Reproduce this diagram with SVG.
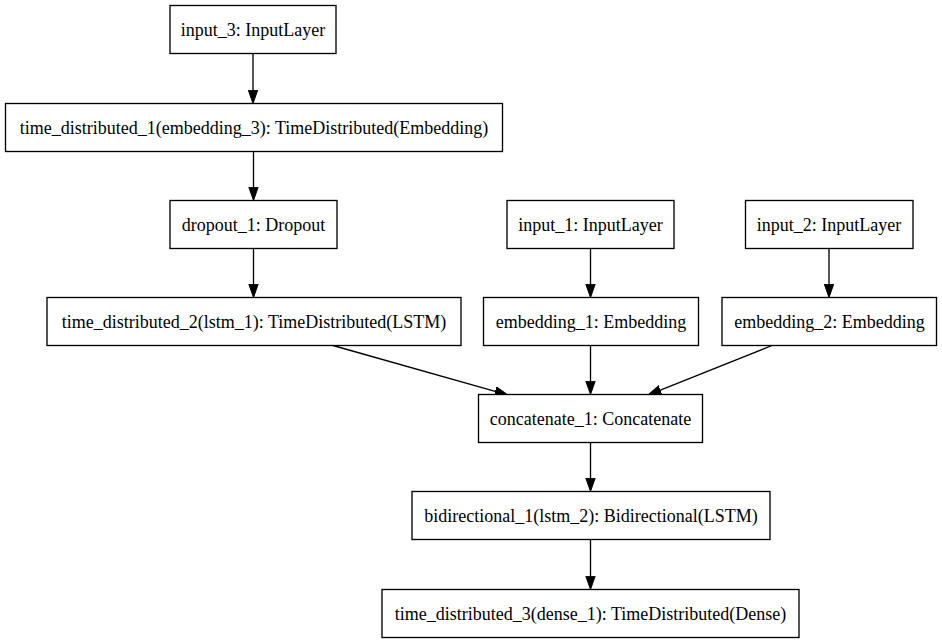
<svg xmlns="http://www.w3.org/2000/svg" width="942" height="644" viewBox="0 0 942 644">
<style>
.n rect{fill:#fff;stroke:#000;stroke-width:1.33}
.n text{font-family:"Liberation Serif","Times New Roman",serif;font-size:18px;fill:#000;text-anchor:middle}
.e path{fill:none;stroke:#000;stroke-width:1.33}
</style>
<defs>
<marker id="ah" markerUnits="userSpaceOnUse" markerWidth="15" markerHeight="11" viewBox="0 -5.5 15 11" refX="0" refY="0" orient="auto">
<path d="M0,-4.67 L13.3,0 L0,4.67 Z" fill="#000" stroke="#000" stroke-width="1"/>
</marker>
</defs>
<rect width="942" height="644" fill="#fff"/>
<g id="edges" class="e">
<path d="M253,53.5 V90.2" marker-end="url(#ah)"/>
<path d="M253.5,151.5 V187.2" marker-end="url(#ah)"/>
<path d="M253.5,248.5 V284.2" marker-end="url(#ah)"/>
<path d="M590.5,248.5 V284.2" marker-end="url(#ah)"/>
<path d="M829,248.5 V284.2" marker-end="url(#ah)"/>
<path d="M333,345.5 L495.2,391.4" marker-end="url(#ah)"/>
<path d="M590.5,345.5 V381.2" marker-end="url(#ah)"/>
<path d="M772,345.5 L660.4,390.1" marker-end="url(#ah)"/>
<path d="M590.5,442.5 V478.2" marker-end="url(#ah)"/>
<path d="M590.5,539.5 V576.2" marker-end="url(#ah)"/>
</g>
<g id="input_3" class="n"><rect x="170" y="5.5" width="166" height="48"/><text x="253" y="35.5">input_3: InputLayer</text></g>
<g id="time_distributed_1" class="n"><rect x="5.5" y="103.5" width="497" height="48"/><text x="254" y="133.5">time_distributed_1(embedding_3): TimeDistributed(Embedding)</text></g>
<g id="dropout_1" class="n"><rect x="170" y="200.5" width="167" height="48"/><text x="253.5" y="230.5">dropout_1: Dropout</text></g>
<g id="input_1" class="n"><rect x="507" y="200.5" width="167" height="48"/><text x="590.5" y="230.5">input_1: InputLayer</text></g>
<g id="input_2" class="n"><rect x="745.5" y="200.5" width="167.5" height="48"/><text x="829" y="230.5">input_2: InputLayer</text></g>
<g id="time_distributed_2" class="n"><rect x="47" y="297.5" width="414" height="48"/><text x="254" y="327.5">time_distributed_2(lstm_1): TimeDistributed(LSTM)</text></g>
<g id="embedding_1" class="n"><rect x="483.5" y="297.5" width="215" height="48"/><text x="591" y="327.5">embedding_1: Embedding</text></g>
<g id="embedding_2" class="n"><rect x="722" y="297.5" width="214.5" height="48"/><text x="829.5" y="327.5">embedding_2: Embedding</text></g>
<g id="concatenate_1" class="n"><rect x="478.5" y="394.5" width="224" height="48"/><text x="590.5" y="424.5">concatenate_1: Concatenate</text></g>
<g id="bidirectional_1" class="n"><rect x="412" y="491.5" width="358" height="48"/><text x="591" y="521.5">bidirectional_1(lstm_2): Bidirectional(LSTM)</text></g>
<g id="time_distributed_3" class="n"><rect x="382" y="589.5" width="417" height="48"/><text x="590.5" y="619.5">time_distributed_3(dense_1): TimeDistributed(Dense)</text></g>
</svg>
